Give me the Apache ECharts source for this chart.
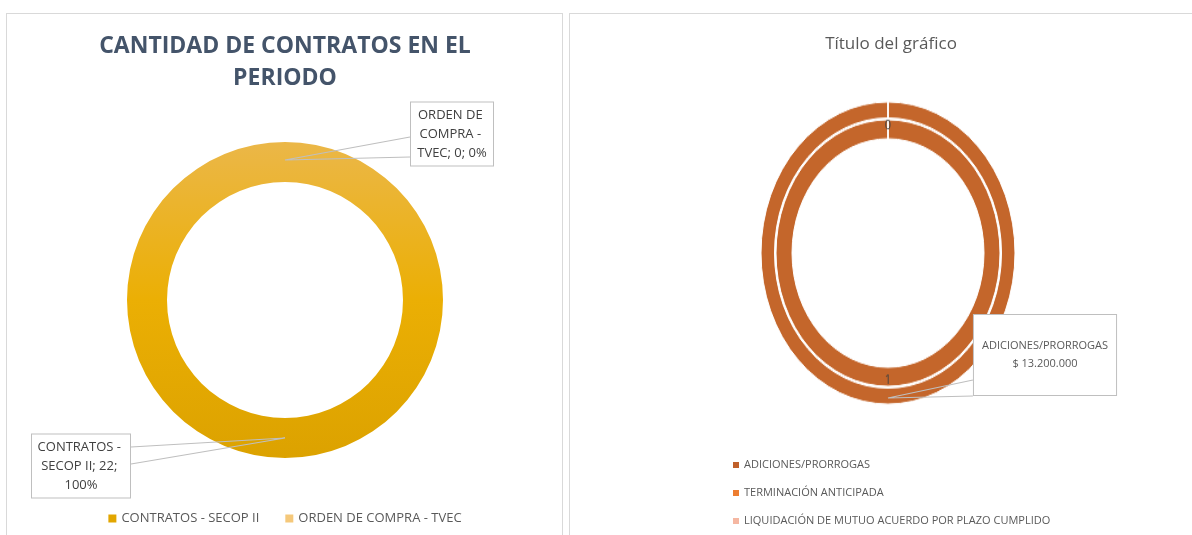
<!DOCTYPE html>
<html lang="es">
<head>
    <meta charset="UTF-8">
    <title>Contratos en el periodo</title>
    <script src="https://cdn.jsdelivr.net/npm/echarts@6/dist/echarts.min.js"></script>
    <style>
        body {
            margin: 0;
            padding: 0;
            background: #fff;
            font-family: "Open Sans", sans-serif;
        }
        .panel {
            position: absolute;
            border: 1px solid #D9D9D9;
            box-sizing: border-box;
        }
        #left { position: absolute; left: 0; top: 0; width: 570px; height: 535px; }
        /* Excel deja el anillo ovalado: se estira en vertical */
        #ring {
            position: absolute; left: 738px; top: 103px; width: 300px; height: 300px;
            transform: scaleY(1.19); transform-origin: 50% 50%;
        }
        #right { position: absolute; left: 570px; top: 0; width: 622px; height: 535px; }
    </style>
</head>
<body>
    <div class="panel" style="left:6px; top:13px; width:557px; height:540px;"></div>
    <div class="panel" style="left:569px; top:13px; width:640px; height:540px;"></div>
    <div id="left"></div>
    <div id="ring"></div>
    <div id="right"></div>

    <script>
        // datos grafico izquierdo
        const contratoNames = ['CONTRATOS - SECOP II', 'ORDEN DE COMPRA - TVEC'];
        const contratoValues = [22, 0];

        // datos grafico derecho
        const novedadNames = ['ADICIONES/PRORROGAS', 'TERMINACIÓN ANTICIPADA', 'LIQUIDACIÓN DE MUTUO ACUERDO POR PLAZO CUMPLIDO'];
        const novedadCounts = [1, 0, 0];
        const novedadAmounts = [13200000, 0, 0];

        const FONT = '"Open Sans", sans-serif';

        // ---------- izquierdo ----------
        const leftChart = echarts.init(document.getElementById('left'));
        const goldGradient = new echarts.graphic.LinearGradient(0, 0, 0, 1, [
            { offset: 0, color: '#EBB748' },
            { offset: 0.5, color: '#EBAF04' },
            { offset: 1, color: '#DCA200' }
        ]);
        const leftColors = [goldGradient, '#F5C87A'];
        const leftLegendColors = ['#E2A600', '#F5C87A'];
        const leftLabelWidth = [88, 72];
        const leftLabelPos = [[81, 466], [452, 134]];
        // puntos donde la cuña de la nota toca la caja (arriba, abajo)
        const leftWedge = [[447, 464], [137, 157]];
        const leftCenter = [285, 300];
        const leftRadius = [118, 158];

        leftChart.setOption({
            animation: false,
            title: {
                text: 'CANTIDAD DE CONTRATOS EN EL\nPERIODO',
                left: 'center',
                top: 25,
                textStyle: { fontFamily: FONT, fontSize: 23, fontWeight: 'bold', color: '#44546A', lineHeight: 32 }
            },
            legend: {
                bottom: 5,
                left: 'center',
                icon: 'rect',
                itemWidth: 8,
                itemHeight: 8,
                itemGap: 26,
                textStyle: { fontFamily: FONT, fontSize: 13, color: '#595959' },
                data: contratoNames.map((n, i) => ({ name: n, itemStyle: { color: leftLegendColors[i] } }))
            },
            series: [
                {
                    type: 'pie',
                    center: leftCenter,
                    radius: leftRadius,
                    startAngle: 90,
                    silent: true,
                    label: { show: false },
                    labelLine: { show: false },
                    data: contratoNames.map((n, i) => ({
                        name: n,
                        value: contratoValues[i],
                        itemStyle: { color: leftColors[i] }
                    }))
                },
                {
                    // misma serie encima, transparente, para que las notas queden sobre el anillo
                    type: 'pie',
                    z: 5,
                    center: leftCenter,
                    radius: leftRadius,
                    startAngle: 90,
                    silent: true,
                    itemStyle: { color: 'rgba(0,0,0,0)' },
                    label: {
                        show: true,
                        formatter: p => p.name + '; ' + p.value + '; ' + Math.round(p.percent) + '%',
                        fontFamily: FONT,
                        fontSize: 13,
                        lineHeight: 19,
                        color: '#404040',
                        align: 'center',
                        overflow: 'break',
                        backgroundColor: '#fff',
                        borderColor: '#BFBFBF',
                        borderWidth: 1,
                        padding: [3, 5]
                    },
                    labelLine: { show: true, lineStyle: { color: '#BFBFBF', width: 1.2 } },
                    labelLayout: function (params) {
                        const i = params.dataIndex;
                        const pos = leftLabelPos[i];
                        const r = params.labelRect;
                        const a = params.labelLinePoints;
                        const base = { x: pos[0], y: pos[1], align: 'center', verticalAlign: 'middle' };
                        if (!a) return base;
                        // la punta entra un poco en el anillo
                        const dy = a[0][1] < leftCenter[1] ? 18 : -20;
                        const tip = [a[0][0], a[0][1] + dy];
                        const edgeX = i === 0 ? pos[0] + r.width / 2 : pos[0] - r.width / 2;
                        base.labelLinePoints = [[edgeX, leftWedge[i][0]], tip, [edgeX, leftWedge[i][1]]];
                        return base;
                    },
                    data: contratoNames.map((n, i) => ({
                        name: n,
                        value: contratoValues[i],
                        label: { width: leftLabelWidth[i] }
                    }))
                }
            ]
        });

        // ---------- anillos derecho ----------
        const ringChart = echarts.init(document.getElementById('ring'));
        const ringColor = '#C4662B';
        ringChart.setOption({
            animation: false,
            series: [
                {
                    type: 'pie',
                    radius: [96, 112],
                    startAngle: 90,
                    silent: true,
                    itemStyle: { color: ringColor, borderColor: '#fff', borderWidth: 1 },
                    label: { show: true, position: 'inside', formatter: '{c}', fontFamily: FONT, fontSize: 11, color: '#404040' },
                    data: novedadNames.map((n, i) => ({ name: n, value: novedadCounts[i] }))
                },
                {
                    type: 'pie',
                    radius: [113.5, 127],
                    startAngle: 90,
                    silent: true,
                    itemStyle: { color: ringColor, borderColor: '#fff', borderWidth: 1 },
                    label: { show: false },
                    data: novedadNames.map((n, i) => ({ name: n, value: novedadAmounts[i] }))
                }
            ]
        });

        // ---------- titulo, leyenda y nota derecho ----------
        const rightChart = echarts.init(document.getElementById('right'));
        const legendColors = ['#C0602A', '#ED7D31', '#F5B7A2'];
        const fmtPesos = v => '$ ' + v.toString().replace(/\B(?=(\d{3})+(?!\d))/g, '.');

        rightChart.setOption({
            animation: false,
            title: {
                text: 'Título del gráfico',
                left: 316,
                textAlign: 'center',
                top: 31,
                textStyle: { fontFamily: FONT, fontSize: 17, fontWeight: 'normal', color: '#595959' }
            },
            legend: {
                orient: 'vertical',
                left: 163,
                top: 457,
                padding: 0,
                icon: 'rect',
                itemWidth: 6,
                itemHeight: 6,
                itemGap: 12,
                textStyle: { fontFamily: FONT, fontSize: 11, color: '#595959', lineHeight: 16 },
                data: novedadNames.map((n, i) => ({ name: n, itemStyle: { color: legendColors[i] } }))
            },
            series: [{
                // serie invisible: solo sostiene la nota del anillo exterior
                type: 'pie',
                center: [318, 253],
                radius: [0, 145],
                startAngle: 90,
                silent: true,
                itemStyle: { color: 'rgba(0,0,0,0)' },
                label: {
                    formatter: p => p.name + '\n' + fmtPesos(p.value),
                    fontFamily: FONT,
                    fontSize: 11,
                    lineHeight: 18,
                    color: '#595959',
                    align: 'center',
                    backgroundColor: '#fff',
                    borderColor: '#BFBFBF',
                    borderWidth: 1,
                    padding: [22, 8]
                },
                labelLine: { show: true, lineStyle: { color: '#BFBFBF', width: 1.2 } },
                labelLayout: function (params) {
                    const r = params.labelRect;
                    const a = params.labelLinePoints;
                    const cx = 475, cy = 355;
                    const base = { x: cx, y: cy, align: 'center', verticalAlign: 'middle' };
                    if (!a) return base;
                    const edgeX = cx - r.width / 2;
                    base.labelLinePoints = [[edgeX, 380], a[0], [edgeX, cy + r.height / 2]];
                    return base;
                },
                data: novedadNames.map((n, i) => ({
                    name: n,
                    value: novedadAmounts[i],
                    label: { show: i === 0 },
                    labelLine: { show: i === 0 }
                }))
            }]
        });

        window.addEventListener('resize', function () {
            leftChart.resize();
            ringChart.resize();
            rightChart.resize();
        });
    </script>
</body>
</html>
